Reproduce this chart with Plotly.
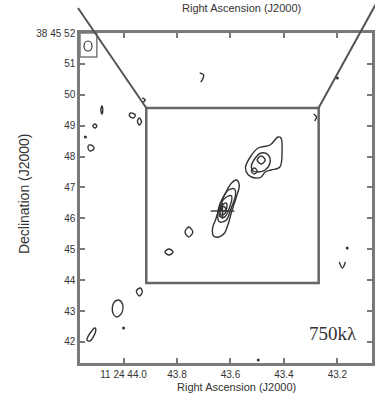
import plotly.graph_objects as go

# ---- axis ticks ----
ra_ticks = [44.0, 43.8, 43.6, 43.4, 43.2]
ra_tick_labels = ["11 24 44.0", "43.8", "43.6", "43.4", "43.2"]
dec_ticks = [42, 43, 44, 45, 46, 47, 48, 49, 50, 51, 52]
dec_tick_labels = ["42", "43", "44", "45", "46", "47", "48", "49", "50", "51", "38 45 52"]

# ---- contours (RA seconds, Dec arcsec) ----
ne_outer_ra = [43.544, 43.526, 43.496, 43.452, 43.422, 43.411, 43.407, 43.415, 43.448, 43.470, 43.485, 43.507, 43.533]
ne_outer_dec = [47.631, 47.987, 48.278, 48.375, 48.634, 48.602, 48.214, 47.663, 47.566, 47.502, 47.340, 47.307, 47.405]
ne_mid_ra = [43.522, 43.507, 43.485, 43.459, 43.452, 43.470, 43.496, 43.515]
ne_mid_dec = [47.663, 47.955, 48.117, 48.052, 47.793, 47.566, 47.502, 47.534]
ne_ring1_ra = [43.485, 43.470, 43.485, 43.500]
ne_ring1_dec = [48.019, 47.890, 47.761, 47.890]
ne_ring2_ra = [43.511, 43.500, 43.511, 43.522]
ne_ring2_dec = [47.631, 47.534, 47.437, 47.534]

core_l1_ra = [43.578, 43.567, 43.578, 43.596, 43.604, 43.611, 43.622, 43.644, 43.663, 43.667, 43.656, 43.644, 43.622, 43.596]
core_l1_dec = [47.243, 47.081, 46.693, 46.207, 45.948, 45.754, 45.528, 45.398, 45.430, 45.689, 45.948, 46.272, 46.757, 47.146]
core_l2_ra = [43.585, 43.581, 43.600, 43.615, 43.641, 43.648, 43.633, 43.607]
core_l2_dec = [46.951, 46.757, 46.272, 45.948, 45.883, 46.142, 46.595, 46.919]
core_l3_ra = [43.596, 43.604, 43.622, 43.641, 43.637, 43.615]
core_l3_dec = [46.725, 46.337, 46.045, 46.078, 46.434, 46.693]
core_l4_ra = [43.615, 43.619, 43.637, 43.633]
core_l4_dec = [46.498, 46.175, 46.110, 46.401]
core_l5_ra = [43.626, 43.617, 43.626, 43.635]
core_l5_dec = [46.385, 46.304, 46.223, 46.304]

knot_a_ra = [43.756, 43.741, 43.756, 43.770]
knot_a_dec = [45.722, 45.560, 45.398, 45.560]
knot_b_ra = [43.830, 43.815, 43.830, 43.845]
knot_b_dec = [45.010, 44.913, 44.816, 44.913]
knot_c_ra = [44.019, 44.004, 44.007, 44.026, 44.041, 44.037]
knot_c_dec = [43.359, 43.229, 42.939, 42.809, 42.971, 43.262]
knot_d_ra = [43.937, 43.930, 43.941, 43.952]
knot_d_dec = [43.748, 43.618, 43.489, 43.650]
knot_e_ra = [44.107, 44.104, 44.126, 44.137, 44.122]
knot_e_dec = [42.453, 42.356, 42.032, 42.065, 42.324]
knot_f_ra = [44.081, 44.078, 44.081, 44.085]
knot_f_dec = [49.638, 49.508, 49.379, 49.508]
knot_g_ra = [44.107, 44.100, 44.107, 44.115]
knot_g_dec = [49.055, 48.990, 48.926, 48.990]
knot_h_ra = [44.130, 44.115, 44.111, 44.126, 44.133]
knot_h_dec = [48.375, 48.343, 48.246, 48.181, 48.278]
knot_i_ra = [43.974, 43.956, 43.963, 43.978]
knot_i_dec = [49.411, 49.346, 49.249, 49.314]
knot_j_ra = [43.941, 43.933, 43.941, 43.948]
knot_j_dec = [49.249, 49.120, 49.023, 49.152]

# open fragments
frag_a_ra = [43.930, 43.919, 43.930]
frag_a_dec = [49.896, 49.832, 49.735]
frag_b_ra = [43.715, 43.700, 43.704, 43.711]
frag_b_dec = [50.706, 50.641, 50.511, 50.414]
frag_c_ra = [43.289, 43.278, 43.285]
frag_c_dec = [49.379, 49.282, 49.152]
frag_d_ra = [43.193, 43.181, 43.170]
frag_d_dec = [44.589, 44.395, 44.589]

dots_ra = [44.143, 44.000, 43.200, 43.163, 43.496]
dots_dec = [48.634, 42.453, 50.544, 45.042, 41.417]

# cross marking the core position
cross_h_ra = [43.674, 43.585]
cross_h_dec = [46.239, 46.239]
cross_v_ra = [43.630, 43.630]
cross_v_dec = [46.498, 45.981]

closed = [
    (ne_outer_ra, ne_outer_dec), (ne_mid_ra, ne_mid_dec),
    (ne_ring1_ra, ne_ring1_dec), (ne_ring2_ra, ne_ring2_dec),
    (core_l1_ra, core_l1_dec), (core_l2_ra, core_l2_dec),
    (core_l3_ra, core_l3_dec), (core_l4_ra, core_l4_dec),
    (core_l5_ra, core_l5_dec),
    (knot_a_ra, knot_a_dec), (knot_b_ra, knot_b_dec), (knot_c_ra, knot_c_dec),
    (knot_d_ra, knot_d_dec), (knot_e_ra, knot_e_dec), (knot_f_ra, knot_f_dec),
    (knot_g_ra, knot_g_dec), (knot_h_ra, knot_h_dec), (knot_i_ra, knot_i_dec),
    (knot_j_ra, knot_j_dec),
]
opened = [
    (frag_a_ra, frag_a_dec), (frag_b_ra, frag_b_dec),
    (frag_c_ra, frag_c_dec), (frag_d_ra, frag_d_dec),
    (cross_h_ra, cross_h_dec), (cross_v_ra, cross_v_dec),
]

LINE = "#333333"
AX = "#7a7a7a"
fig = go.Figure()
for ra, dec in closed:
    fig.add_trace(go.Scatter(x=ra + ra[:1], y=dec + dec[:1], mode="lines",
                             line=dict(color=LINE, width=1.4, shape="spline", smoothing=1.0),
                             hoverinfo="skip", showlegend=False))
for ra, dec in opened:
    fig.add_trace(go.Scatter(x=ra, y=dec, mode="lines",
                             line=dict(color=LINE, width=1.4, shape="spline"),
                             hoverinfo="skip", showlegend=False))
fig.add_trace(go.Scatter(x=dots_ra, y=dots_dec, mode="markers",
                         marker=dict(color=LINE, size=3), hoverinfo="skip", showlegend=False))

ra_range = [44.163, 43.0704]
dec_range = [41.32, 52.0]

shapes = [
    # beam box and beam
    dict(type="rect", xref="x", yref="y", x0=44.163, x1=44.100, y0=51.223, y1=52.0,
         line=dict(color=AX, width=1.5)),
    dict(type="circle", xref="x", yref="y", x0=44.148, x1=44.118, y0=51.417, y1=51.741,
         line=dict(color=LINE, width=1.2)),
    # zoom box
    dict(type="rect", xref="x", yref="y", x0=43.915, x1=43.270, y0=43.909, y1=49.573,
         line=dict(color="#666666", width=2.5)),
    # connector lines to upper panel
    dict(type="line", xref="paper", yref="paper", x0=-0.0068, y0=1.0758, x1=0.2271, y1=0.7727,
         line=dict(color="#555555", width=2)),
    dict(type="line", xref="paper", yref="paper", x0=0.8169, y0=0.7727, x1=1.0305, y1=1.1152,
         line=dict(color="#555555", width=2)),
]

font_family = "Liberation Sans, Arial, sans-serif"
annotations = [
    dict(text="Right Ascension (J2000)", xref="paper", yref="paper", x=0.5356, y=-0.0727,
         showarrow=False, font=dict(size=11, color="#333", family=font_family),
         xanchor="center", yanchor="middle"),
    dict(text="Right Ascension (J2000)", xref="paper", yref="paper", x=0.5525, y=1.0758,
         showarrow=False, font=dict(size=11, color="#333", family=font_family),
         xanchor="center", yanchor="middle"),
    dict(text="Declination (J2000)", xref="paper", yref="paper", x=-0.1932, y=0.5136,
         showarrow=False, textangle=-90, font=dict(size=14, color="#333", family=font_family),
         xanchor="center", yanchor="middle"),
    dict(text="750kλ", xref="paper", yref="paper", x=0.8678, y=0.0909,
         showarrow=False, font=dict(size=19, color="#333",
                                    family="Liberation Serif, Times New Roman, serif"),
         xanchor="center", yanchor="middle"),
]

fig.update_layout(
    width=375, height=397,
    margin=dict(l=80, r=0, t=33, b=34),
    paper_bgcolor="white", plot_bgcolor="white",
    shapes=shapes, annotations=annotations,
    font=dict(family=font_family, size=10, color="#333"),
)
fig.update_xaxes(range=ra_range, tickvals=ra_ticks, ticktext=ra_tick_labels,
                 showgrid=False, zeroline=False, showline=True, linecolor=AX, linewidth=2.5,
                 mirror="ticks", ticks="inside", ticklen=5, tickwidth=1.5, tickcolor=AX,
                 tickfont=dict(size=10, color="#333"))
fig.update_yaxes(range=dec_range, tickvals=dec_ticks, ticktext=dec_tick_labels,
                 showgrid=False, zeroline=False, showline=True, linecolor=AX, linewidth=2.5,
                 mirror="ticks", ticks="inside", ticklen=5, tickwidth=1.5, tickcolor=AX,
                 tickfont=dict(size=10, color="#333"))

fig.write_html("out.html", config={"displayModeBar": False},
               post_script="document.body.style.margin='0';document.body.style.overflow='hidden';")
